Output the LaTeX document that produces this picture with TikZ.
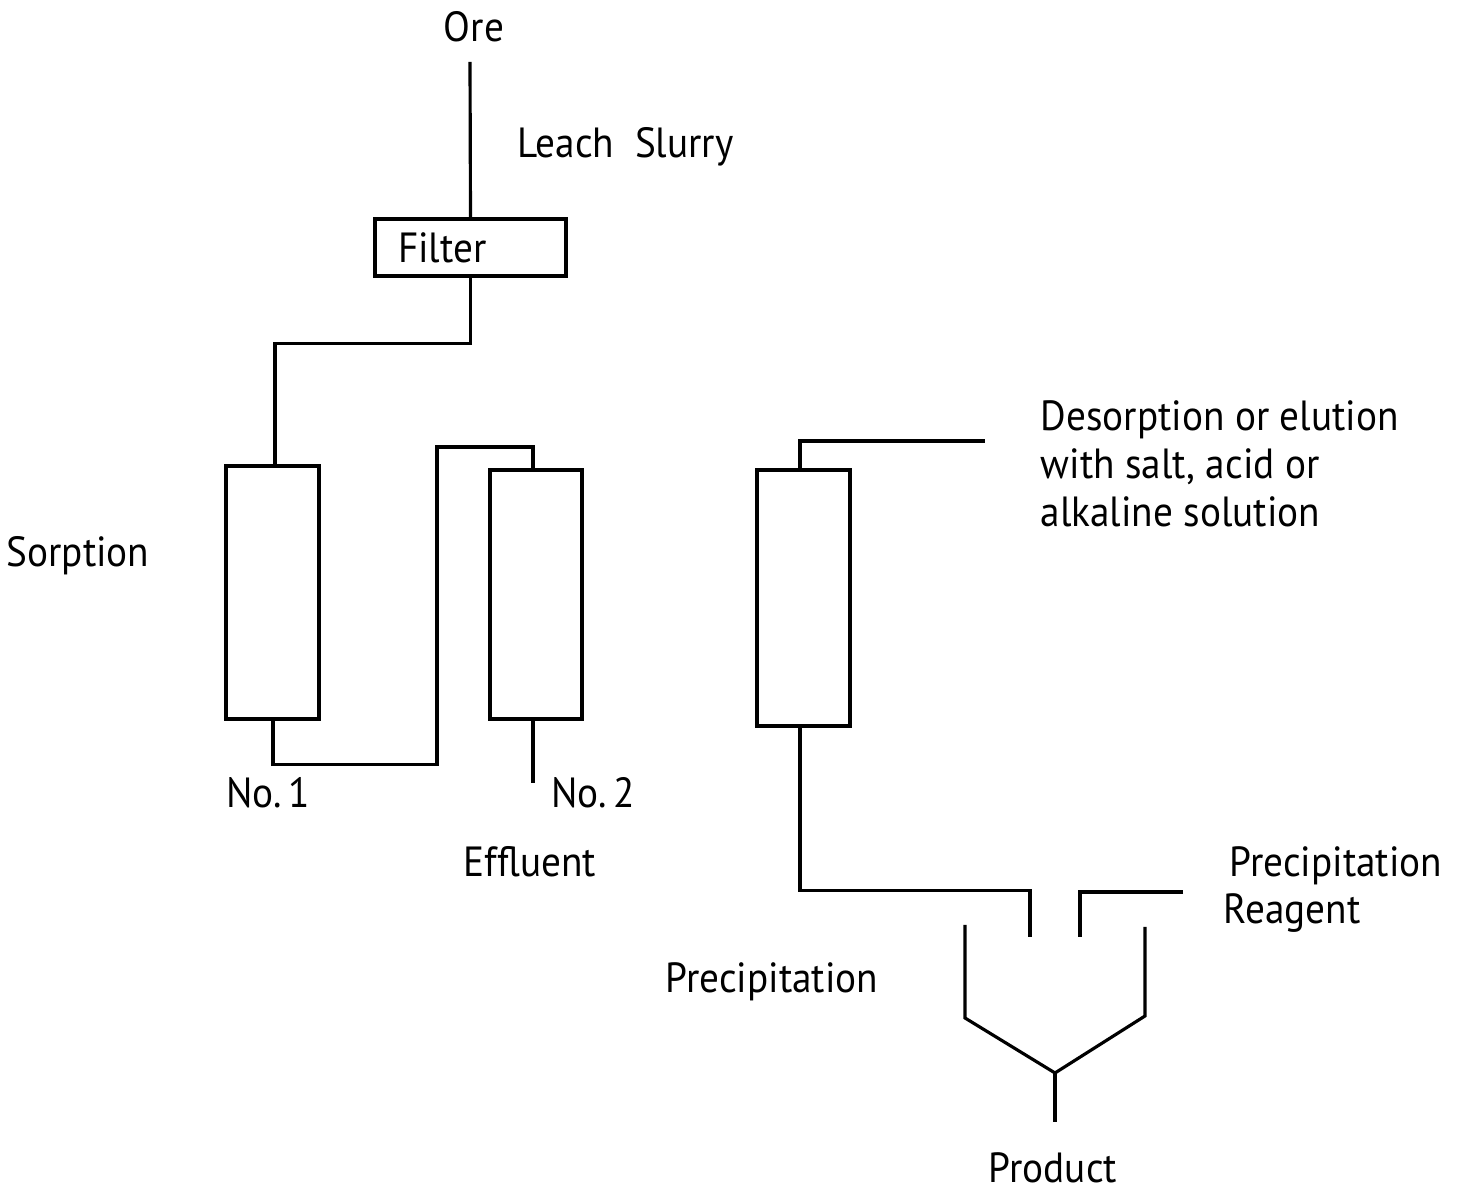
\documentclass[tikz,border=0pt]{standalone}
\usepackage{fontspec}
\setmainfont{PT Sans}[FakeStretch=0.93]
\usepackage{tikz}
\usetikzlibrary{calc}

\tikzset{
  unit/.style={draw,line width=0.9pt,inner sep=0pt},
  column/.style={unit,minimum width=0.93cm,minimum height=2.53cm},
  pipe/.style={line width=0.9pt},
  tag/.style={font=\fontsize{12}{13.6}\selectfont,inner sep=0pt}
}

\begin{document}
\begin{tikzpicture}
  \useasboundingbox (0,0) rectangle (14.6,11.93);

  % feed and filter
  \node[tag] (ore) at (4.74,11.66) {Ore};
  \coordinate (orein) at (4.70,11.31);
  \node[tag,anchor=west] (slurry) at (5.17,10.46) {Leach~~Slurry};
  \node[unit,font=\fontsize{12}{13.6}\selectfont,minimum height=0.57cm,text width=1.45cm,inner xsep=0.23cm,align=left] (filter) at (4.705,9.455) {Filter};
  \draw[pipe] (orein) -- (filter.north);

  % sorption columns
  \node[column] (col1) at (2.725,6.005) {};
  \node[column,minimum width=0.92cm,minimum height=2.49cm] (col2) at (5.36,5.985) {};
  \coordinate (loop) at (4.37,7.46);
  \coordinate (eff) at (5.33,4.10);
  \draw[pipe] (filter.south) -- ++(0,-0.66) -| ($(col1.north)+(0.025,0)$);
  \draw[pipe] ($(col1.south)+(0.005,0)$) -- ++(0,-0.44) -| (loop) -| ($(col2.north)+(-0.03,0)$);
  \draw[pipe] ($(col2.south)+(-0.03,0)$) -- (eff);
  \node[tag] (sorp) at (0.78,6.37) {Sorption};
  \node[tag] (no1) at (2.68,4.00) {No.\,1};
  \node[tag] (no2) at (5.93,4.00) {No.\,2};
  \node[tag] (effl) at (5.30,3.31) {Effluent};

  % elution column
  \node[column,minimum height=2.56cm] (col3) at (8.035,5.95) {};
  \coordinate (elin) at (9.85,7.52);
  \draw[pipe] ($(col3.north)+(-0.035,0)$) |- (elin);
  \node[tag,anchor=west,align=left] (desorp) at (10.40,7.29) {Desorption or elution\\with salt, acid or\\alkaline solution};

  % precipitation
  \coordinate (tankinA) at (10.30,2.56);
  \coordinate (tankinB) at (10.80,2.56);
  \coordinate (reagent) at (11.83,3.01);
  \coordinate (outlet) at (10.55,0.71);
  \draw[pipe] ($(col3.south)+(-0.035,0)$) -- ++(0,-1.63) -| (tankinA);
  \draw[pipe] (reagent) -| (tankinB);
  \draw[pipe] (9.65,2.68) -- (9.65,1.75) coordinate (tankL) -- (10.55,1.20) coordinate (tankbot)
        -- (11.45,1.77) -- (11.45,2.66);
  \draw[pipe] (tankbot) -- (outlet);
  \node[tag] (precip) at (7.72,2.11) {Precipitation};
  \node[tag,anchor=west,align=left] (reag) at (12.23,3.035) {\hspace*{0.06cm}Precipitation\\Reagent};
  \node[tag] (prod) at (10.53,0.25) {Product};
\end{tikzpicture}
\end{document}
